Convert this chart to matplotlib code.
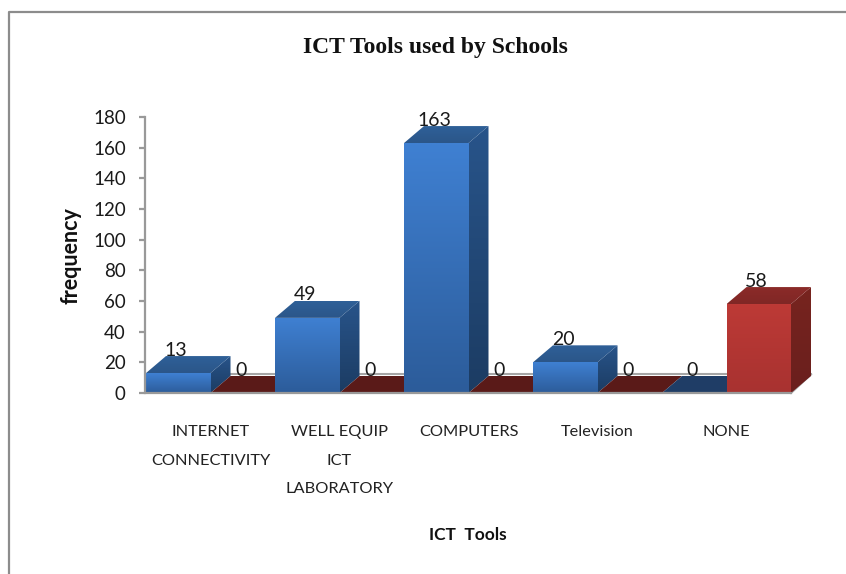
import numpy as np
import matplotlib
matplotlib.use("Agg")
import matplotlib.pyplot as plt
from matplotlib.patches import Polygon
from matplotlib.lines import Line2D

categories = ["INTERNET\nCONNECTIVITY", "WELL EQUIP\nICT\nLABORATORY", "COMPUTERS", "Television", "NONE"]
series_blue = [13, 49, 163, 20, 0]
series_red = [0, 0, 0, 0, 58]
y_ticks = [0, 20, 40, 60, 80, 100, 120, 140, 160, 180]

W, H = 846, 574
X0, X1, Y0, Y1 = 146, 791, 393, 117   # plot box in pixels
DX_PX, DY_PX = 20, 17                 # 3D depth in pixels
BLUE = dict(front=("#3f80d2", "#2c5c9a"), top=("#2f6098", "#2b5689"), side=("#28548a", "#1c3c63"), flat="#1f3d66")
RED = dict(front=("#bd3a36", "#a83230"), top=("#8b2b29", "#802725"), side=("#77241f", "#6a1f1d"), flat="#5a1a18")

fig = plt.figure(figsize=(W / 100, H / 100), dpi=100, facecolor="white")
ax = fig.add_axes([X0 / W, 1 - Y0 / H, (X1 - X0) / W, (Y0 - Y1) / H])
ax.set_xlim(0, 5)
ax.set_ylim(0, 180)
ax.patch.set_alpha(0)
dx = DX_PX / ((X1 - X0) / 5)
dy = DY_PX / ((Y0 - Y1) / 180)


def hexrgb(c):
    return np.array(matplotlib.colors.to_rgb(c))


def shaded(pts, colors, z):
    """Draw polygon filled with a vertical gradient."""
    poly = Polygon(pts, closed=True, facecolor="none", edgecolor="none", transform=ax.transData, zorder=z)
    ax.add_patch(poly)
    poly.set_clip_on(False)
    xs, ys = zip(*pts)
    t = np.linspace(0, 1, 64)[:, None, None]
    img = hexrgb(colors[0])[None, None, :] * (1 - t) + hexrgb(colors[1])[None, None, :] * t
    im = ax.imshow(img, extent=(min(xs), max(xs), min(ys), max(ys)), aspect="auto", origin="upper",
                   interpolation="bilinear", zorder=z)
    im.set_clip_path(poly)
    im.set_clip_box(fig.bbox)


def column(left, value, pal, z):
    right = left + 0.5
    if value == 0:
        ax.add_patch(Polygon([(left, 0), (right, 0), (right + dx, dy), (left + dx, dy)], closed=True,
                             facecolor=pal["flat"], edgecolor="none", zorder=z, clip_on=False))
        return
    shaded([(right, 0), (right + dx, dy), (right + dx, value + dy), (right, value)], pal["side"], z)
    shaded([(left, value), (right, value), (right + dx, value + dy), (left + dx, value + dy)], pal["top"], z + 0.1)
    shaded([(left, 0), (right, 0), (right, value), (left, value)], pal["front"], z + 0.2)


# floor edges
ax.plot([dx, 5 + dx], [dy + 1.2, dy + 1.2], color="#a6a6a6", lw=1.5, zorder=1, clip_on=False)
ax.plot([5, 5 + dx], [0, dy + 1], color="#a6a6a6", lw=1.5, zorder=1, clip_on=False)

z = 2
for i, (a, b) in enumerate(zip(series_blue, series_red)):
    column(i, a, BLUE, z)
    z += 1
    column(i + 0.5, b, RED, z)
    z += 1

ax.set_xlim(0, 5)
ax.set_ylim(0, 180)

# value labels
for i, (a, b) in enumerate(zip(series_blue, series_red)):
    for off, v in ((0.25, a), (0.75, b)):
        ax.annotate(str(v), (i + off, v), xytext=(-2, 23), textcoords="offset pixels", ha="center", va="center",
                    fontsize=14, family="Lato", color="#1a1a1a", zorder=50, annotation_clip=False)

# axes
for s in ("top", "right"):
    ax.spines[s].set_visible(False)
for s in ("left", "bottom"):
    ax.spines[s].set_color("#999999")
    ax.spines[s].set_linewidth(1.6)
    ax.spines[s].set_zorder(40)
ax.spines["left"].set_position(("outward", 1))
ax.set_yticks(y_ticks)
ax.set_yticklabels([str(v) for v in y_ticks], family="Lato", fontsize=13.5, color="#1a1a1a")
ax.tick_params(axis="y", length=4.5, width=1.6, color="#999999", pad=9)
ax.set_xticks(np.arange(5) + 0.5)
ax.set_xticklabels(categories, family="Lato", fontsize=11.8, color="#222222", linespacing=2.33)
ax.tick_params(axis="x", length=0, pad=23)

# titles
fig.text(435 / W, 1 - 47 / H, "ICT Tools used by Schools", family="Liberation Serif", weight="bold",
         fontsize=17, ha="center", va="center", color="#111111")
fig.text(468 / W, 1 - 535 / H, "ICT  Tools", family="Lato", weight="bold", fontsize=12.5,
         ha="center", va="center", color="#111111")
fig.text(71 / W, 1 - 256 / H, "frequency", family="Lato", weight="bold", fontsize=15.5, rotation=90,
         ha="center", va="center", color="#111111")

# outer border (top and left only)
fig.add_artist(Line2D([9 / W, 9 / W, 1], [0, 1 - 12 / H, 1 - 12 / H], color="#8c8c8c", lw=1.6,
                      transform=fig.transFigure))

fig.savefig("out.png", dpi=100)
